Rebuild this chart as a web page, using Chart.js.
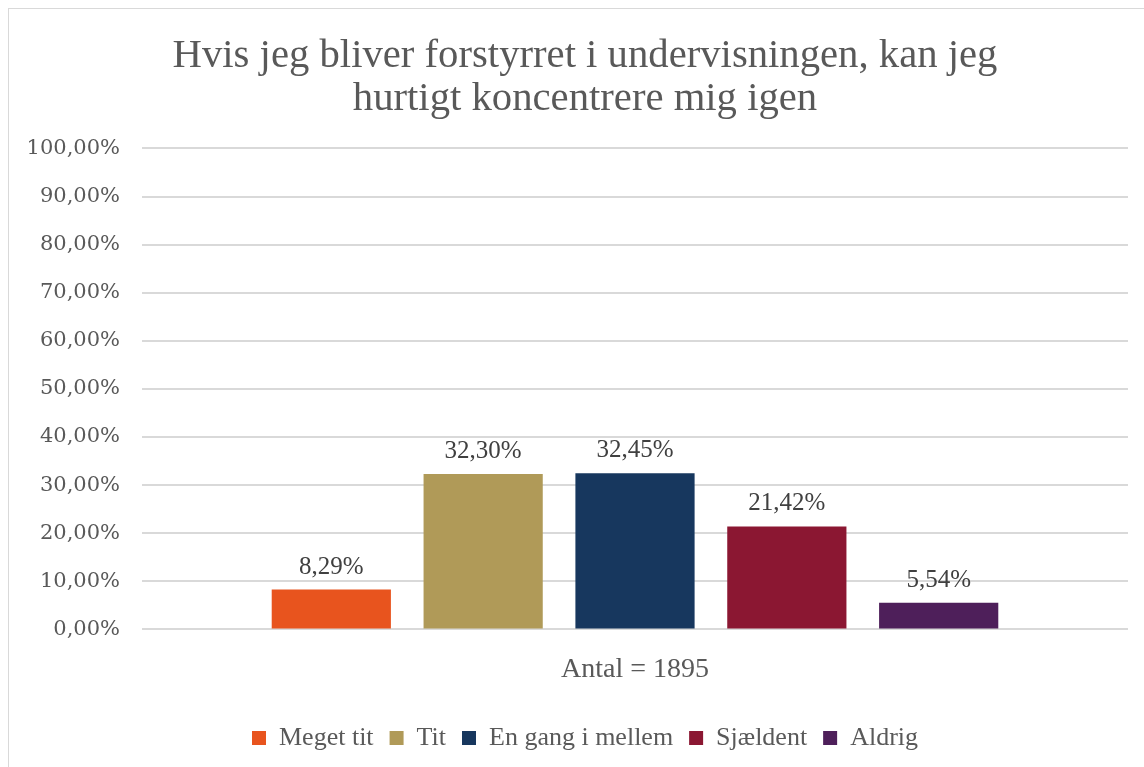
<!DOCTYPE html>
<html>
<head>
<meta charset="utf-8">
<script src="https://cdn.jsdelivr.net/npm/chart.js@4.4.0/dist/chart.umd.min.js"></script>
<style>
  body { margin: 0; background: #fff; overflow: hidden; }
  #wrap { position: absolute; left: 0; top: 0; width: 1144px; height: 767px; overflow: hidden; }
  #frame { position: absolute; left: 8px; top: 8px; width: 1150px; height: 780px; border: 1px solid #d9d9d9; box-sizing: border-box; }
  #myBarChart { position: absolute; left: 8px; top: 0; }
</style>
</head>
<body>
<div id="wrap">
  <div id="frame"></div>
  <canvas id="myBarChart" width="1154" height="767"></canvas>
</div>
<script>
// DATA
var categories = ['Antal = 1895'];
var seriesNames = ['Meget tit', 'Tit', 'En gang i mellem', 'Sjældent', 'Aldrig'];
var seriesValues = [8.29, 32.30, 32.45, 21.42, 5.54];
var seriesColors = ['#e8541e', '#b09a58', '#17375e', '#8b1732', '#4e1f5a'];
var yTicks = [0, 10, 20, 30, 40, 50, 60, 70, 80, 90, 100];

var textColor = '#595959';

function pct(v) {
  return v.toFixed(2).replace('.', ',') + '%';
}

// draw value labels above each bar
var barLabels = {
  id: 'barLabels',
  afterDatasetsDraw: function(chart) {
    var ctx = chart.ctx;
    ctx.save();
    ctx.font = '25px "Liberation Serif"';
    ctx.fillStyle = '#404040';
    ctx.textAlign = 'center';
    ctx.textBaseline = 'bottom';
    chart.data.datasets.forEach(function(ds, i) {
      var meta = chart.getDatasetMeta(i);
      meta.data.forEach(function(bar, j) {
        ctx.fillText(pct(ds.data[j]), bar.x, bar.y - 10);
      });
    });
    ctx.restore();
  }
};

var datasets = seriesNames.map(function(name, i) {
  return {
    label: name,
    data: [seriesValues[i]],
    backgroundColor: seriesColors[i],
    borderWidth: 0,
    categoryPercentage: 0.77,
    barPercentage: 0.785
  };
});

var ctx = document.getElementById('myBarChart').getContext('2d');
var chart = new Chart(ctx, {
  type: 'bar',
  data: {
    labels: categories,
    datasets: datasets
  },
  plugins: [barLabels],
  options: {
    responsive: false,
    animation: false,
    layout: { padding: { left: 0, right: 0, top: 35, bottom: 6 } },
    plugins: {
      title: {
        display: true,
        text: ['Hvis jeg bliver forstyrret i undervisningen, kan jeg', 'hurtigt koncentrere mig igen'],
        color: textColor,
        font: { family: '"Liberation Serif"', size: 40.7, weight: 'normal', lineHeight: 1.05 },
        padding: { top: 0, bottom: 28 }
      },
      legend: {
        position: 'bottom',
        labels: {
          color: textColor,
          font: { family: '"Liberation Serif"', size: 26 },
          boxWidth: 14,
          boxHeight: 14,
          padding: 16
        }
      },
      tooltip: { enabled: false }
    },
    scales: {
      x: {
        grid: { display: false, drawTicks: false },
        border: { display: false },
        ticks: {
          color: textColor,
          font: { family: '"Liberation Serif"', size: 28 },
          padding: 23
        }
      },
      y: {
        min: 0,
        max: 100,
        afterBuildTicks: function(scale) {
          scale.ticks = yTicks.map(function(v) { return { value: v }; });
        },
        afterFit: function(scale) { scale.width = 134; },
        grid: { color: '#d9d9d9', lineWidth: 2, drawTicks: false },
        border: { display: false },
        ticks: {
          color: textColor,
          font: { family: '"DejaVu Serif"', size: 21 },
          padding: 22,
          callback: function(v) { return pct(v); }
        }
      },
      // empty right margin, keeps the plot inside the frame
      y2: {
        type: 'linear',
        position: 'right',
        grid: { display: false, drawTicks: false },
        border: { display: false },
        ticks: { display: false },
        afterFit: function(scale) { scale.width = 34; }
      }
    }
  }
});
</script>
</body>
</html>
